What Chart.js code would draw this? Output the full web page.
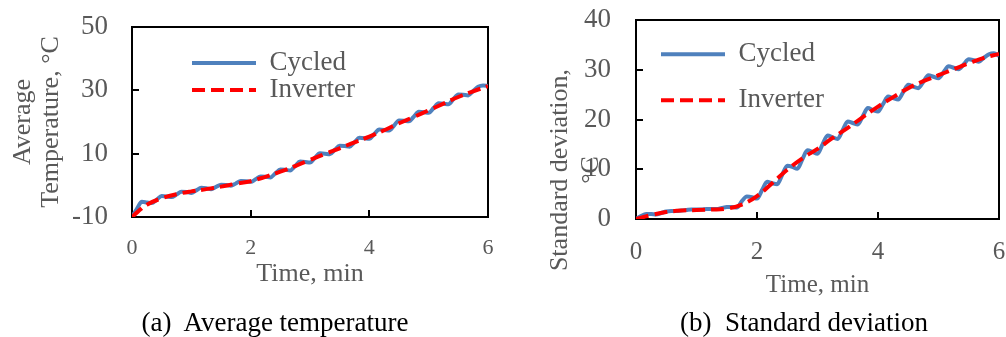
<!DOCTYPE html>
<html>
<head>
<meta charset="utf-8">
<script src="https://cdn.jsdelivr.net/npm/chart.js@4/dist/chart.umd.min.js"></script>
<style>
body { margin: 0; background: #fff; }
#wrap { position: relative; width: 1006px; height: 337px; overflow: hidden; }
.panel { position: absolute; top: 0; width: 503px; height: 337px; }
.caption {
    position: absolute; top: 307px; line-height: 30px; transform: translateX(-50%);
    font: 27px 'Liberation Serif', 'Times New Roman', serif; color: #000; white-space: pre;
}
</style>
</head>
<body>
<div id="wrap">
    <div class="panel" style="left:0"><canvas id="avgChart" width="503" height="337"></canvas></div>
    <div class="panel" style="left:503px"><canvas id="sdChart" width="503" height="337"></canvas></div>
    <div class="caption" style="left:275px">(a)  Average temperature</div>
    <div class="caption" style="left:804px">(b)  Standard deviation</div>
</div>
<script>
// === Data (time in min) ===
const timeCycled = [0, 0.083, 0.167, 0.25, 0.333, 0.417, 0.5, 0.583, 0.667, 0.75, 0.833, 0.917,
    1, 1.083, 1.167, 1.25, 1.333, 1.417, 1.5, 1.583, 1.667, 1.75, 1.833, 1.917,
    2, 2.083, 2.167, 2.25, 2.333, 2.417, 2.5, 2.583, 2.667, 2.75, 2.833, 2.917,
    3, 3.083, 3.167, 3.25, 3.333, 3.417, 3.5, 3.583, 3.667, 3.75, 3.833, 3.917,
    4, 4.083, 4.167, 4.25, 4.333, 4.417, 4.5, 4.583, 4.667, 4.75, 4.833, 4.917,
    5, 5.083, 5.167, 5.25, 5.333, 5.417, 5.5, 5.583, 5.667, 5.75, 5.833, 5.917, 6];
const timeInverter = [0, 0.1, 0.25, 0.5, 0.75, 1, 1.25, 1.5, 1.75, 2, 2.25, 2.5, 2.75,
    3, 3.25, 3.5, 3.75, 4, 4.25, 4.5, 4.75, 5, 5.25, 5.5, 5.75, 6];

// average temperature, °C
const avgCycled = [-10, -7.4, -5.2, -5.4, -5.6, -4.5, -3.4, -3.5, -3.7, -2.9, -2.0, -2.1,
    -2.4, -1.6, -0.8, -0.9, -1.2, -0.5, 0.2, 0.1, -0.1, 0.6, 1.4, 1.3,
    1.1, 1.9, 2.8, 2.7, 2.5, 3.8, 5.0, 4.9, 4.7, 6.1, 7.5, 7.4,
    7.2, 8.7, 10.1, 10.0, 9.8, 11.2, 12.5, 12.4, 12.2, 13.6, 15.0, 14.9,
    14.7, 16.2, 17.6, 17.5, 17.3, 18.9, 20.5, 20.4, 20.2, 21.7, 23.2, 23.1,
    22.9, 24.4, 25.9, 25.8, 25.6, 27.2, 28.7, 28.6, 28.4, 29.8, 31.1, 31.5, 31.4];
const avgInverter = [-10, -8.3, -6.1, -4.1, -2.8, -1.9, -1.2, -0.4, 0.5, 1.3, 2.7, 4.3, 6.1,
    8.0, 9.9, 11.7, 13.6, 15.4, 17.4, 19.6, 21.6, 23.7, 25.8, 27.9, 29.7, 31.3];

// standard deviation, °C
const sdCycled = [0, 0.6, 1.0, 1.0, 0.9, 1.2, 1.5, 1.6, 1.6, 1.7, 1.8, 1.9,
    1.9, 1.9, 2.0, 2.0, 2.0, 2.2, 2.4, 2.4, 2.3, 3.6, 4.5, 4.4,
    4.1, 5.8, 7.5, 7.2, 7.0, 8.9, 10.7, 10.5, 10.1, 12.0, 13.8, 13.5,
    13.1, 15.0, 16.8, 16.4, 16.1, 17.9, 19.6, 19.3, 19.0, 20.7, 22.3, 21.9,
    21.6, 23.1, 24.6, 24.3, 24.0, 25.5, 27.0, 26.6, 26.3, 27.6, 28.9, 28.6,
    28.3, 29.5, 30.7, 30.4, 30.1, 31.1, 32.1, 31.9, 31.6, 32.4, 33.1, 33.3, 32.8];
const sdInverter = [0, 0.3, 0.8, 1.4, 1.7, 1.8, 1.9, 2.1, 2.9, 4.6, 7.2, 9.9, 12.2,
    14.1, 16.3, 18.3, 20.5, 22.6, 24.5, 26.3, 27.7, 28.9, 30.1, 31.3, 32.4, 33.2];

// === Style ===
const SERIF = "'Liberation Serif', 'Times New Roman', serif";
const GREY = '#595959';
const BLUE = '#4F81BD';
const RED = '#FF0000';

Chart.defaults.font.family = SERIF;

function points(times, values) {
    return times.map((t, i) => ({ x: t, y: values[i] }));
}

// rotated y-axis label, placed by hand (Excel puts it off-centre on panel b)
const sideCaption = {
    id: 'sideCaption',
    afterDraw(chart, args, opts) {
        const ctx = chart.ctx;
        ctx.save();
        ctx.translate(opts.x, opts.y);
        ctx.rotate(-Math.PI / 2);
        ctx.font = `${opts.size}px ${SERIF}`;
        ctx.fillStyle = GREY;
        ctx.textAlign = 'center';
        ctx.textBaseline = 'middle';
        opts.lines.forEach((line, i) => ctx.fillText(line, 0, i * opts.gap));
        ctx.restore();
    }
};

// legend sits inside the plot area, moved to a fixed spot
const legendSpot = {
    id: 'legendSpot',
    afterLayout(chart, args, opts) {
        const lg = chart.legend;
        lg.left = opts.x;
        lg.top = opts.y;
        lg.right = chart.width;
        lg.bottom = chart.height;
    }
};

// legend lines keep the dataset dash and width
function lineLabels(chart) {
    return Chart.defaults.plugins.legend.labels.generateLabels(chart).map(item => {
        const ds = chart.data.datasets[item.datasetIndex];
        return { ...item, lineDash: ds.borderDash || [], lineWidth: ds.borderWidth, strokeStyle: ds.borderColor };
    });
}

function frameAxis(position) {
    return {
        type: 'linear', position: position,
        ticks: { display: false },
        grid: { display: false, drawTicks: false },
        border: { display: true, color: '#000', width: 2 }
    };
}

// tick padding would otherwise be added to the outer layout padding
function fixWidth(w) {
    return scale => {
        scale.width = w;
        scale.paddingTop = scale.paddingBottom = 0;
    };
}
function fixHeight(h) {
    return scale => {
        scale.height = h;
        scale.paddingLeft = scale.paddingRight = 0;
    };
}

// === Builder ===
function buildPanel(id, s) {
    return new Chart(document.getElementById(id), {
        type: 'line',
        data: {
            datasets: [
                {
                    label: 'Cycled',
                    data: points(timeCycled, s.cycled),
                    borderColor: BLUE,
                    backgroundColor: BLUE,
                    borderWidth: 4,
                    pointRadius: 0,
                    cubicInterpolationMode: 'monotone',
                    order: 1
                },
                {
                    label: 'Inverter',
                    data: points(timeInverter, s.inverter),
                    borderColor: RED,
                    backgroundColor: RED,
                    borderWidth: 4,
                    borderDash: [13, 6],
                    pointRadius: 0,
                    tension: 0.4,
                    order: 0
                }
            ]
        },
        options: {
            responsive: false,
            animation: false,
            events: [],
            layout: { padding: { left: 0, top: s.top, right: s.right, bottom: 0 } },
            scales: {
                x: {
                    type: 'linear', min: 0, max: 6,
                    ticks: { stepSize: 2, color: GREY, font: { size: s.xTickSize }, padding: s.xTickPad, maxRotation: 0 },
                    grid: { drawOnChartArea: false, tickLength: -7, color: '#000', lineWidth: 2 },
                    border: { color: '#000', width: 2 },
                    title: {
                        display: true, text: 'Time, min', color: GREY,
                        font: { size: s.xTitleSize }, padding: { top: 0, bottom: s.xTitlePad }
                    },
                    afterFit: fixHeight(s.xHeight)
                },
                y: {
                    min: s.yMin, max: s.yMax,
                    ticks: { stepSize: s.yStep, color: GREY, font: { size: s.yTickSize }, padding: s.yTickPad },
                    grid: { drawOnChartArea: false, tickLength: -7, color: '#000', lineWidth: 2 },
                    border: { color: '#000', width: 2 },
                    afterFit: fixWidth(s.yWidth)
                },
                xTop: frameAxis('top'),
                yRight: frameAxis('right')
            },
            plugins: {
                legend: {
                    position: 'chartArea',
                    align: 'start',
                    labels: {
                        usePointStyle: true,
                        pointStyle: 'line',
                        pointStyleWidth: 64,
                        color: GREY,
                        font: { size: 27 },
                        padding: s.legendPad,
                        generateLabels: lineLabels,
                        sort: (a, b) => a.datasetIndex - b.datasetIndex
                    }
                },
                tooltip: { enabled: false },
                legendSpot: s.legendAt,
                sideCaption: s.yLabel
            }
        },
        plugins: [legendSpot, sideCaption]
    });
}

// === INIT ===
buildPanel('avgChart', {
    cycled: avgCycled, inverter: avgInverter,
    yMin: -10, yMax: 50, yStep: 20,
    top: 27, right: 15, yWidth: 132, xHeight: 120,
    xTickSize: 22, xTickPad: 25, yTickSize: 27, yTickPad: 31,
    xTitleSize: 26, xTitlePad: 47,
    legendPad: 0, legendAt: { x: 192, y: 49.5 },
    yLabel: { lines: ['Average', 'Temperature, °C'], x: 23, y: 122, gap: 28, size: 26 }
});

buildPanel('sdChart', {
    cycled: sdCycled, inverter: sdInverter,
    yMin: 0, yMax: 40, yStep: 10,
    top: 20, right: 7, yWidth: 133, xHeight: 118,
    xTickSize: 25, xTickPad: 25, yTickSize: 27, yTickPad: 32,
    xTitleSize: 25, xTitlePad: 37,
    legendPad: 19, legendAt: { x: 139, y: 21.7 },
    yLabel: { lines: ['Standard deviation,', '°C'], x: 57, y: 170, gap: 31, size: 26 }
});
</script>
</body>
</html>
